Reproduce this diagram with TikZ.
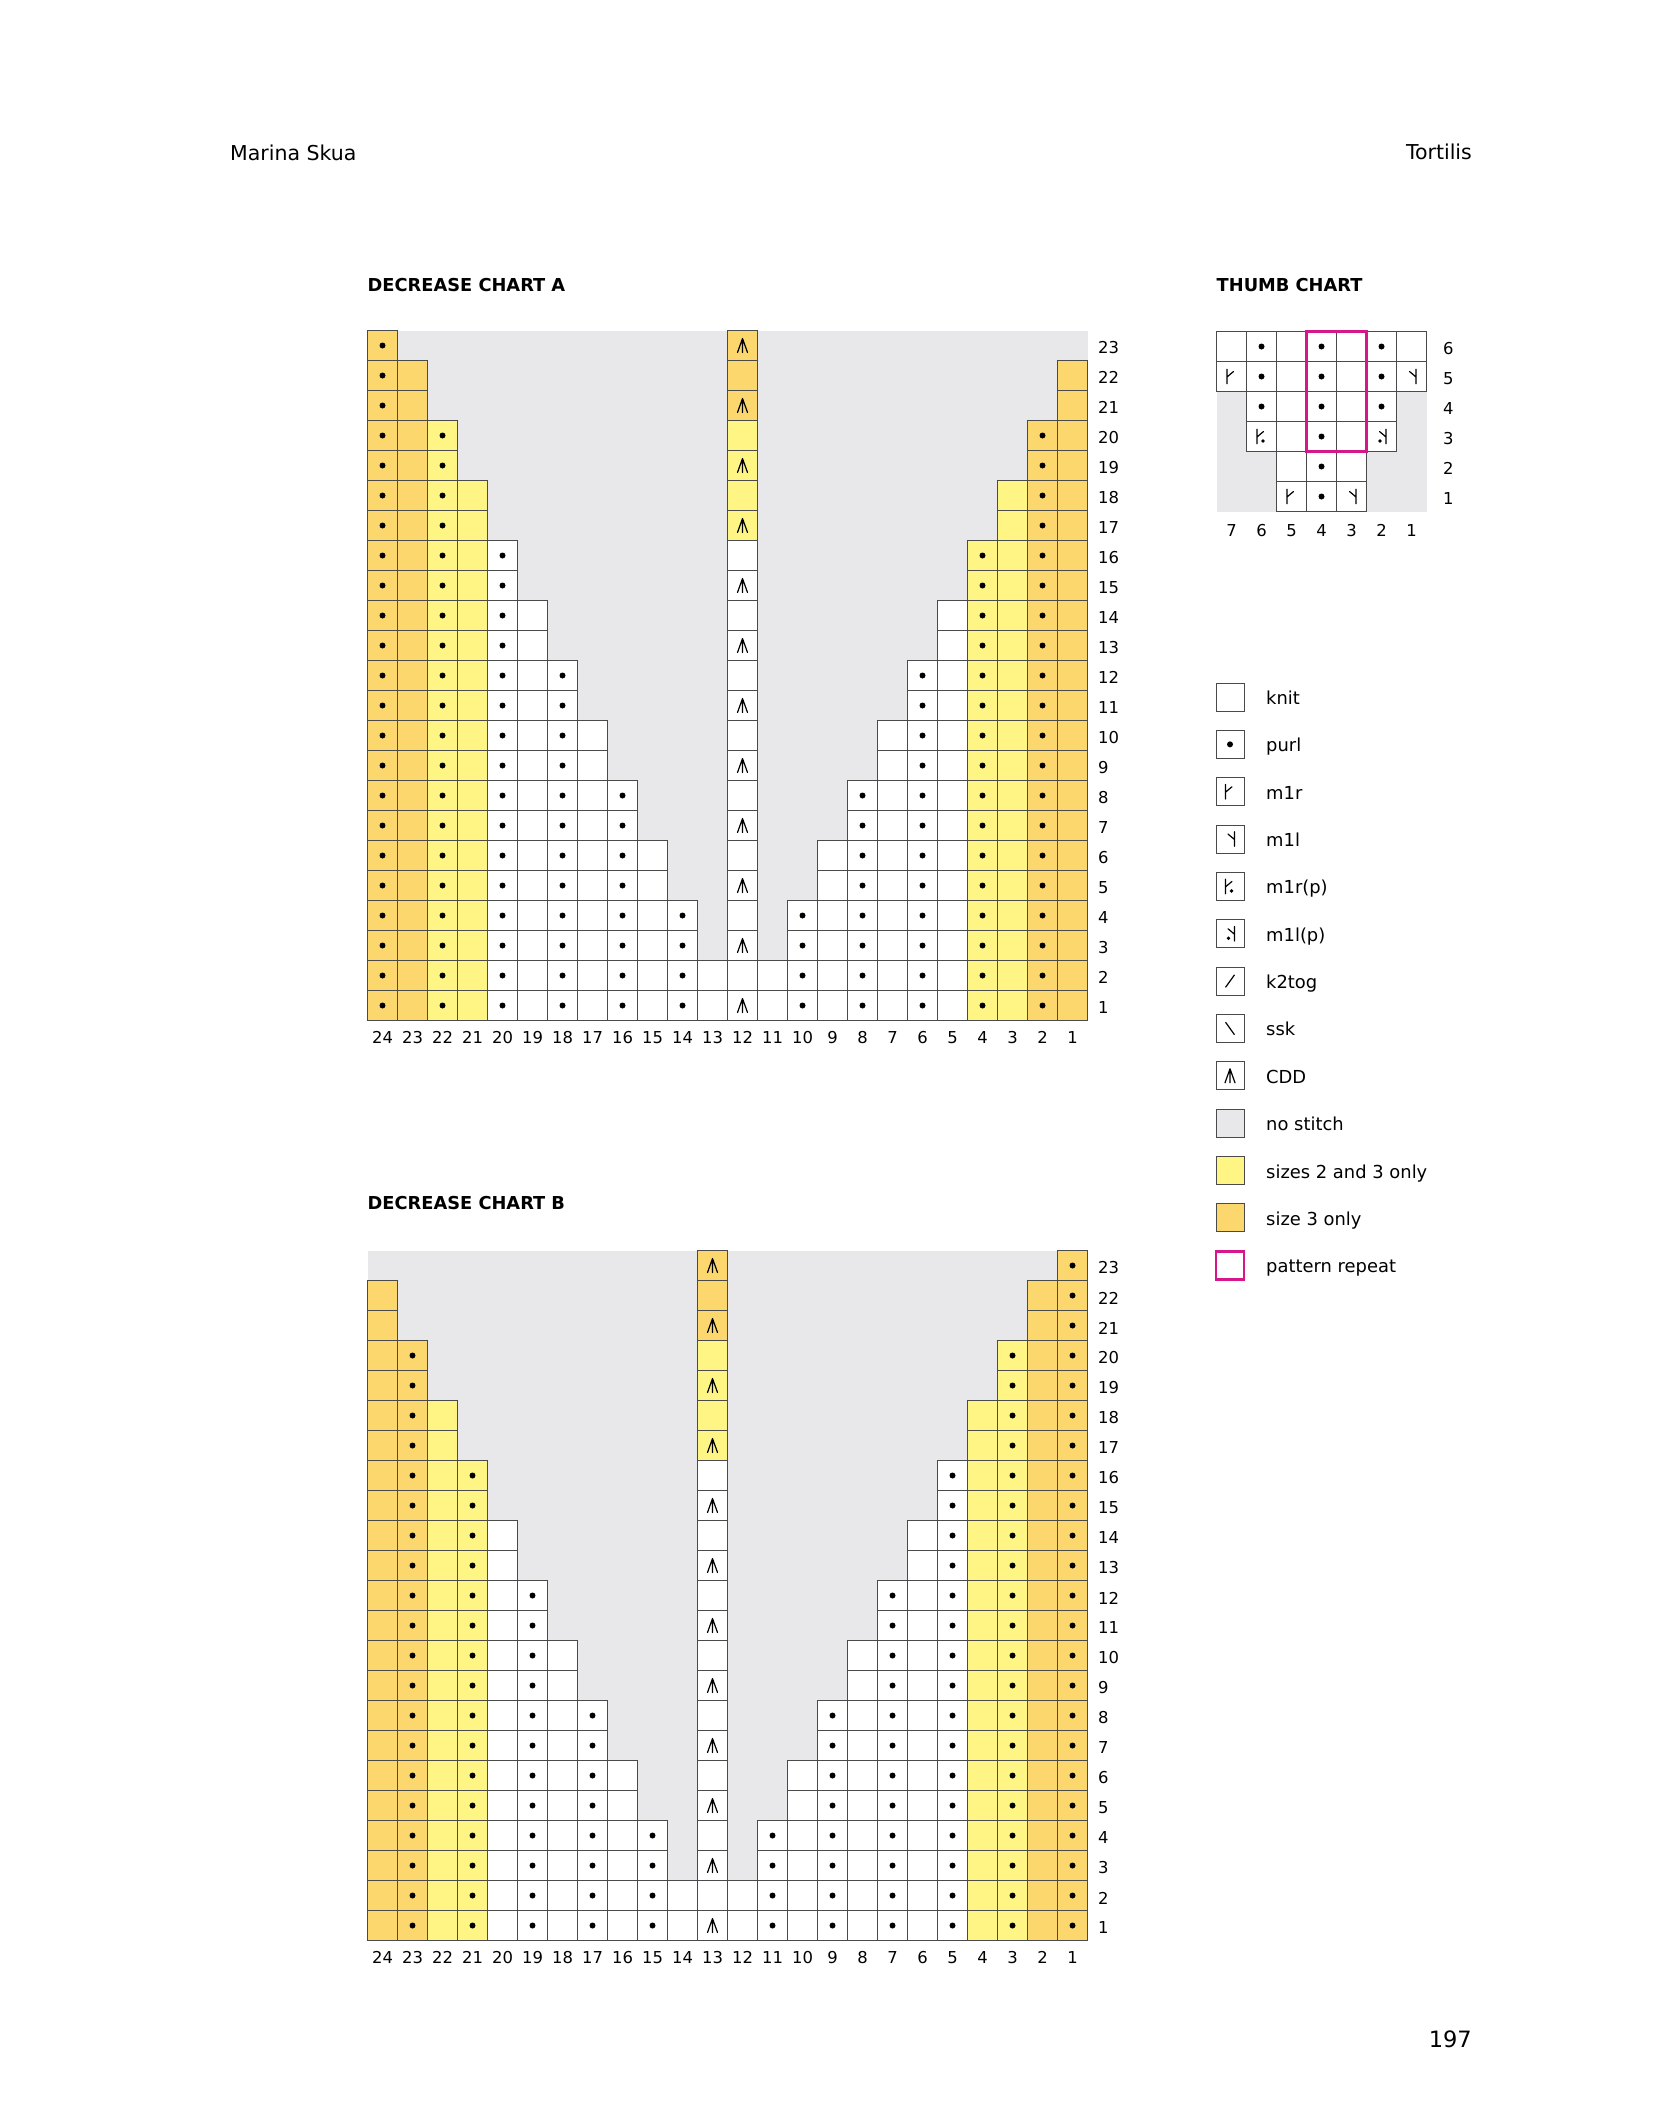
\documentclass[tikz,border=0pt]{standalone}
\usepackage{fontspec}
\setmainfont{DejaVu Sans}
\definecolor{nost}{HTML}{E8E7E9}
\definecolor{ylw}{HTML}{FFF584}
\definecolor{org}{HTML}{FCD76D}
\definecolor{mag}{HTML}{D6168B}
\definecolor{gridc}{HTML}{4A4A4A}
\tikzset{
  cellbox/.style={draw=gridc, line width=1pt},
  symline/.style={draw=black, line width=1.2pt, line cap=round, line join=round},
  num/.style={font=\fontsize{16.4}{19}\selectfont, inner sep=0pt},
  head/.style={font=\bfseries\fontsize{17.8}{21}\selectfont, inner sep=0pt, anchor=base west},
  lgtext/.style={font=\fontsize{17.9}{21}\selectfont, inner sep=0pt, anchor=base west},
  pagetext/.style={font=\fontsize{20.5}{24}\selectfont, inner sep=0pt},
  lgbox/.style={draw=gridc, line width=1pt},
  repeatbox/.style={draw=mag, line width=2.6pt},
}
\newcommand\purlsym[1]{\fill[black] #1 circle[radius=3pt];}
\newcommand\cddsym[1]{\draw[symline] #1 +(-5pt,-7pt) -- +(0pt,7pt) -- +(5pt,-7pt) #1 +(0pt,7pt) -- +(0pt,-7pt);}
\newcommand\mrsym[1]{\draw[symline] #1 +(-4.5pt,-7.3pt) -- +(-4.5pt,7.3pt) #1 +(-4.5pt,-0.5pt) -- +(2pt,5pt);}
\newcommand\mlsym[1]{\draw[symline] #1 +(4.5pt,-7.3pt) -- +(4.5pt,7.3pt) #1 +(4.5pt,-0.5pt) -- +(-2pt,5pt);}
\newcommand\mrpsym[1]{\mrsym{#1}\fill[black] #1 +(1.5pt,-4.5pt) circle[radius=1.9pt];}
\newcommand\mlpsym[1]{\mlsym{#1}\fill[black] #1 +(-1.5pt,-4.5pt) circle[radius=1.9pt];}
\newcommand\ktsym[1]{\draw[symline] #1 +(-4.3pt,-6pt) -- +(4.3pt,6pt);}
\newcommand\sksym[1]{\draw[symline] #1 +(-4.3pt,6pt) -- +(4.3pt,-6pt);}
% chart: #1 name prefix, #2 top y, #3 column list col/height/type/colour
\newcommand\knitchart[3]{%
\begin{scope}[shift={(367.5,#2)}, x=30pt, y=-30pt]
  \fill[nost] (0,0) rectangle (24,23);
  \foreach \col/\hh/\tp/\kk in {#3} {
    \foreach \rw in {1,...,\hh} {
      \def\fc{white}%
      \ifnum\kk=1 \def\fc{ylw}\fi
      \ifnum\kk=2 \def\fc{org}\fi
      \ifnum\kk=3 \ifnum\rw>20 \def\fc{org}\else\ifnum\rw>16 \def\fc{ylw}\fi\fi\fi
      \filldraw[fill=\fc, cellbox] (24-\col,23-\rw) rectangle (25-\col,24-\rw);
      \ifnum\tp=1 \purlsym{(24.5-\col,23.5-\rw)}\fi
      \ifnum\tp=2 \ifodd\rw\relax \cddsym{(24.5-\col,23.5-\rw)}\fi\fi
    }
    \node[num] (#1col\col) at (24.5-\col,23.57) {\col};
  }
  \foreach \rw in {1,...,23} \node[num, anchor=west] (#1row\rw) at (24.35,23.58-\rw) {\rw};
\end{scope}}
\newcommand\lgbx[2]{\filldraw[lgbox, fill=#2] (1216,#1-14) rectangle (1244,#1+14);}
\newcommand\lgtx[3]{\node[lgtext] (#2) at (1266,#1+7.5) {#3};}
\begin{document}
\begin{tikzpicture}[x=1pt, y=-1pt]
\useasboundingbox (0,0) rectangle (1654,2126);
\fill[white] (0,0) rectangle (1654,2126);
% page texts
\node[pagetext, anchor=base west] (author) at (230,160) {Marina Skua};
\node[pagetext, anchor=base east] (title) at (1472,159.5) {Tortilis};
\node[pagetext, font=\fontsize{22.5}{26}\selectfont, anchor=base east] (pageno) at (1472,2047) {197};
% headings
\node[head] (hA) at (367.5,291.7) {DECREASE CHART A};
\node[head] (hT) at (1216.5,291.7) {THUMB CHART};
\node[head] (hB) at (367.5,1209.5) {DECREASE CHART B};
% chart A
\knitchart{A}{330.5}{24/23/1/2, 23/22/0/2, 22/20/1/1, 21/18/0/1, 20/16/1/0, 19/14/0/0, 18/12/1/0, 17/10/0/0, 16/8/1/0, 15/6/0/0, 14/4/1/0, 13/2/0/0, 12/23/2/3, 11/2/0/0, 10/4/1/0, 9/6/0/0, 8/8/1/0, 7/10/0/0, 6/12/1/0, 5/14/0/0, 4/16/1/1, 3/18/0/1, 2/20/1/2, 1/22/0/2}
% chart B
\knitchart{B}{1250.5}{24/22/0/2, 23/20/1/2, 22/18/0/1, 21/16/1/1, 20/14/0/0, 19/12/1/0, 18/10/0/0, 17/8/1/0, 16/6/0/0, 15/4/1/0, 14/2/0/0, 13/23/2/3, 12/2/0/0, 11/4/1/0, 10/6/0/0, 9/8/1/0, 8/10/0/0, 7/12/1/0, 6/14/0/0, 5/16/1/0, 4/18/0/1, 3/20/1/1, 2/22/0/2, 1/23/1/2}
% thumb chart
\begin{scope}[shift={(1216.5,331.5)}, x=30pt, y=-30pt]
  \fill[nost] (0,0) rectangle (7,6);
  \foreach \col/\rw/\tp in {7/6/0, 6/6/1, 5/6/0, 4/6/1, 3/6/0, 2/6/1, 1/6/0,
                            7/5/3, 6/5/1, 5/5/0, 4/5/1, 3/5/0, 2/5/1, 1/5/4,
                            6/4/1, 5/4/0, 4/4/1, 3/4/0, 2/4/1,
                            6/3/5, 5/3/0, 4/3/1, 3/3/0, 2/3/6,
                            5/2/0, 4/2/1, 3/2/0,
                            5/1/3, 4/1/1, 3/1/4} {
    \filldraw[fill=white, cellbox] (7-\col,6-\rw) rectangle (8-\col,7-\rw);
    \ifnum\tp=1 \purlsym{(7.5-\col,6.5-\rw)}\fi
    \ifnum\tp=3 \mrsym{(7.5-\col,6.5-\rw)}\fi
    \ifnum\tp=4 \mlsym{(7.5-\col,6.5-\rw)}\fi
    \ifnum\tp=5 \mrpsym{(7.5-\col,6.5-\rw)}\fi
    \ifnum\tp=6 \mlpsym{(7.5-\col,6.5-\rw)}\fi
  }
  \draw[repeatbox] (3,0) rectangle (5,4);
  \foreach \col in {1,...,7} \node[num] (Tcol\col) at (7.5-\col,6.63) {\col};
  \foreach \rw in {1,...,6} \node[num, anchor=west] (Trow\rw) at (7.55,6.58-\rw) {\rw};
\end{scope}
% legend
\lgbx{697}{white} \lgtx{697}{Lknit}{knit}
\lgbx{744.35}{white} \purlsym{(1230,744.35)} \lgtx{744.35}{Lpurl}{purl}
\lgbx{791.7}{white} \mrsym{(1230,791.7)} \lgtx{791.7}{Lmr}{m1r}
\lgbx{839.05}{white} \mlsym{(1230,839.05)} \lgtx{839.05}{Lml}{m1l}
\lgbx{886.4}{white} \mrpsym{(1230,886.4)} \lgtx{886.4}{Lmrp}{m1r(p)}
\lgbx{933.75}{white} \mlpsym{(1230,933.75)} \lgtx{933.75}{Lmlp}{m1l(p)}
\lgbx{981.1}{white} \ktsym{(1230,981.1)} \lgtx{981.1}{Lkt}{k2tog}
\lgbx{1028.45}{white} \sksym{(1230,1028.45)} \lgtx{1028.45}{Lsk}{ssk}
\lgbx{1075.8}{white} \cddsym{(1230,1075.8)} \lgtx{1075.8}{Lcdd}{CDD}
\lgbx{1123.15}{nost} \lgtx{1123.15}{Lno}{no stitch}
\lgbx{1170.5}{ylw} \lgtx{1170.5}{Lyl}{sizes 2 and 3 only}
\lgbx{1217.85}{org} \lgtx{1217.85}{Lor}{size 3 only}
\draw[repeatbox] (1216,1251.2) rectangle (1244,1279.2);
\lgtx{1265.2}{Lrep}{pattern repeat}
\end{tikzpicture}
\end{document}
